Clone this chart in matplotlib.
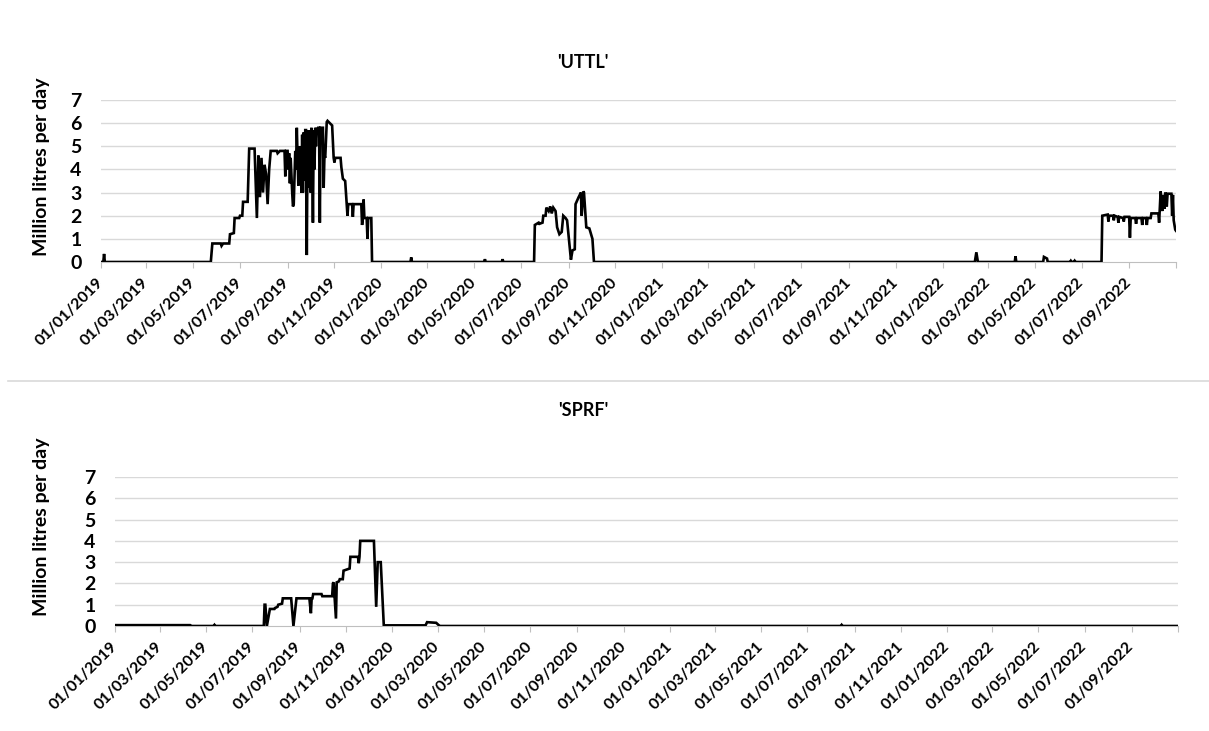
import matplotlib
matplotlib.use("Agg")
import matplotlib.pyplot as plt
import matplotlib.lines as mlines
import pandas as pd

plt.rcParams["font.family"] = ["Lato", "DejaVu Sans"]
plt.rcParams["font.weight"] = "bold"

# ---- data -------------------------------------------------------------
uttl_dates = [
    "2019-01-01", "2019-01-04", "2019-01-05", "2019-01-06",
    "2019-05-24", "2019-05-26", "2019-06-06", "2019-06-07", "2019-06-09",
    "2019-06-17", "2019-06-18", "2019-06-23", "2019-06-24", "2019-06-30",
    "2019-07-01", "2019-07-04", "2019-07-05", "2019-07-11", "2019-07-13",
    "2019-07-20", "2019-07-23", "2019-07-25", "2019-07-27", "2019-07-29",
    "2019-07-31", "2019-08-02", "2019-08-04", "2019-08-06", "2019-08-08",
    "2019-08-10", "2019-08-18", "2019-08-19", "2019-08-22", "2019-08-28",
    "2019-08-29", "2019-08-30", "2019-09-01", "2019-09-02", "2019-09-03",
    "2019-09-04", "2019-09-05", "2019-09-07", "2019-09-08", "2019-09-09",
    "2019-09-11", "2019-09-12", "2019-09-13", "2019-09-15", "2019-09-16",
    "2019-09-18", "2019-09-19", "2019-09-20", "2019-09-21", "2019-09-22",
    "2019-09-23", "2019-09-24", "2019-09-25", "2019-09-26", "2019-09-27",
    "2019-09-28", "2019-09-29", "2019-09-30", "2019-10-01", "2019-10-02",
    "2019-10-03", "2019-10-04", "2019-10-05", "2019-10-06", "2019-10-07",
    "2019-10-08", "2019-10-09", "2019-10-10", "2019-10-11",
    "2019-10-12", "2019-10-13", "2019-10-14", "2019-10-17", "2019-10-18",
    "2019-10-19", "2019-10-20", "2019-10-22", "2019-10-23", "2019-10-29",
    "2019-10-31", "2019-11-01", "2019-11-02", "2019-11-09", "2019-11-10",
    "2019-11-12", "2019-11-15", "2019-11-17", "2019-11-18", "2019-11-19",
    "2019-11-24", "2019-11-25", "2019-11-26", "2019-12-06", "2019-12-07",
    "2019-12-08", "2019-12-09", "2019-12-10", "2019-12-13", "2019-12-14",
    "2019-12-15", "2019-12-19", "2019-12-20",
    "2020-02-08", "2020-02-09", "2020-02-10",
    "2020-05-14", "2020-05-15", "2020-05-16",
    "2020-06-06", "2020-06-07", "2020-06-08",
    "2020-07-18", "2020-07-19", "2020-07-24", "2020-07-25", "2020-07-29",
    "2020-07-30", "2020-08-02", "2020-08-03", "2020-08-06", "2020-08-08",
    "2020-08-10", "2020-08-12", "2020-08-15", "2020-08-17", "2020-08-20",
    "2020-08-23", "2020-08-25", "2020-08-28", "2020-08-30", "2020-09-04",
    "2020-09-06", "2020-09-09", "2020-09-10", "2020-09-14", "2020-09-17",
    "2020-09-18", "2020-09-20", "2020-09-21", "2020-09-24", "2020-09-28",
    "2020-10-02", "2020-10-04",
    "2022-02-12", "2022-02-14", "2022-02-16",
    "2022-04-05", "2022-04-06", "2022-04-07",
    "2022-05-12", "2022-05-13", "2022-05-17", "2022-05-18",
    "2022-06-16", "2022-06-17", "2022-06-18",
    "2022-06-21", "2022-06-22", "2022-06-23",
    "2022-07-27", "2022-07-28", "2022-08-04", "2022-08-05", "2022-08-06",
    "2022-08-11", "2022-08-12", "2022-08-13", "2022-08-17", "2022-08-18",
    "2022-08-19", "2022-08-24", "2022-08-25", "2022-08-26", "2022-09-01",
    "2022-09-02", "2022-09-03", "2022-09-09", "2022-09-10", "2022-09-11",
    "2022-09-17", "2022-09-18", "2022-09-19", "2022-09-23", "2022-09-24",
    "2022-09-25", "2022-09-29", "2022-09-30", "2022-10-09", "2022-10-10",
    "2022-10-12", "2022-10-14", "2022-10-15", "2022-10-17", "2022-10-18",
    "2022-10-20", "2022-10-21", "2022-10-26", "2022-10-27", "2022-10-28",
    "2022-10-29", "2022-10-31", "2022-11-01",
]
uttl_values = [
    0, 0, 0.35, 0,
    0, 0.8, 0.8, 0.7, 0.8,
    0.8, 1.2, 1.25, 1.9, 1.9,
    2.0, 2.0, 2.6, 2.6, 4.9,
    4.9, 1.9, 4.6, 2.8, 4.5,
    3.0, 4.2, 3.8, 2.5, 4.0,
    4.8, 4.8, 4.7, 4.8, 4.8,
    3.7, 4.8, 4.8, 4.0, 4.7,
    3.4, 4.5, 3.0, 2.4, 2.5,
    4.8, 4.0, 5.8, 3.3, 5.0,
    4.8, 3.0, 5.5, 3.0, 5.6,
    3.5, 5.7, 5.7, 0.3, 5.2,
    5.7, 3.2, 5.7, 3.0, 5.8,
    4.8, 1.7, 5.7, 4.0, 5.8,
    5.0, 5.8, 5.6, 5.8,
    5.8, 1.7, 5.8, 5.8, 3.2,
    4.6, 4.5, 6.05, 6.1, 5.9,
    4.5, 4.3, 4.5, 4.5, 4.1,
    3.6, 3.5, 2.5, 2.0, 2.5,
    2.5, 1.95, 2.5, 2.5, 1.6,
    1.9, 2.7, 1.9, 1.9, 1.0,
    1.9, 1.9, 0,
    0, 0.2, 0,
    0, 0.12, 0,
    0, 0.12, 0,
    0, 1.6, 1.7, 1.65, 1.7,
    2.0, 2.0, 2.35, 2.2, 2.4,
    2.1, 2.35, 2.2, 1.5, 1.2,
    1.3, 2.0, 1.9, 1.8, 0.1,
    0.5, 0.55, 2.5, 2.8, 3.0,
    2.0, 3.05, 3.0, 1.5, 1.45,
    1.0, 0,
    0, 0.42, 0,
    0, 0.25, 0,
    0, 0.22, 0.15, 0,
    0, 0.05, 0,
    0, 0.05, 0,
    0, 2.0, 2.05, 1.75, 2.0,
    2.0, 1.8, 2.0, 1.95, 1.7,
    1.95, 1.9, 1.75, 1.95, 1.95,
    1.05, 1.9, 1.9, 1.65, 1.9,
    1.9, 1.6, 1.9, 1.9, 1.6,
    1.9, 1.9, 2.1, 2.1, 1.7,
    3.05, 2.2, 2.9, 2.3, 3.0,
    2.4, 2.95, 2.95, 2.0, 2.9,
    1.8, 1.4, 1.35,
]

sprf_dates = [
    "2019-01-01", "2019-04-10", "2019-04-12",
    "2019-05-11", "2019-05-12", "2019-05-13",
    "2019-07-16", "2019-07-17", "2019-07-18", "2019-07-20",
    "2019-07-24", "2019-07-30", "2019-07-31", "2019-08-03", "2019-08-04",
    "2019-08-09", "2019-08-10", "2019-08-21", "2019-08-24",
    "2019-08-28", "2019-09-14", "2019-09-16", "2019-09-17",
    "2019-09-18", "2019-09-19", "2019-09-30", "2019-10-01",
    "2019-10-14", "2019-10-15", "2019-10-16", "2019-10-19", "2019-10-20",
    "2019-10-23", "2019-10-24", "2019-10-28", "2019-10-29",
    "2019-11-06", "2019-11-07", "2019-11-17", "2019-11-18", "2019-11-19",
    "2019-11-20", "2019-12-08", "2019-12-11", "2019-12-13",
    "2019-12-17", "2019-12-21",
    "2020-02-14", "2020-02-16", "2020-02-28", "2020-03-02", "2020-03-04",
    "2021-08-14", "2021-08-15", "2021-08-16",
    "2022-11-01",
]
sprf_values = [
    0.04, 0.04, 0,
    0, 0.05, 0,
    0, 1.0, 1.0, 0,
    0.8, 0.8, 0.85, 0.9, 1.0,
    1.05, 1.3, 1.3, 0,
    1.3, 1.3, 0.6, 1.3,
    1.3, 1.5, 1.5, 1.4,
    1.4, 2.0, 2.05, 0.35, 2.05,
    2.1, 2.2, 2.2, 2.6,
    2.7, 3.25, 3.25, 2.95, 3.25,
    4.0, 4.0, 0.9, 3.0,
    3.0, 0.03,
    0.03, 0.18, 0.15, 0.05, 0,
    0, 0.05, 0,
    0,
]

tick_dates = pd.date_range("2019-01-01", "2022-11-01", freq="2MS")
tick_labels = [d.strftime("%d/%m/%Y") for d in tick_dates[:-1]] + [""]
y_ticks = list(range(8))

panels = [
    ("'UTTL'", uttl_dates, uttl_values),
    ("'SPRF'", sprf_dates, sprf_values),
]

# ---- figure -----------------------------------------------------------
W, H = 1209, 731
fig = plt.figure(figsize=(W / 100, H / 100), dpi=100)

def px_axes(left, right, top, bottom):
    return fig.add_axes([left / W, 1 - bottom / H, (right - left) / W, (bottom - top) / H])

axes_px = [(101, 1176, 100, 262), (115, 1178, 477, 626)]
title_px = [(583, 62), (583, 411)]
ylabel_px = [(42, 167), (42, 527)]

grid_c = "#d9d9d9"
axis_c = "#bfbfbf"

for (title, dates, values), box, tpos, ypos in zip(panels, axes_px, title_px, ylabel_px):
    ax = px_axes(*box)
    ax.plot(pd.to_datetime(dates), values, color="black", lw=1.9,
            solid_joinstyle="miter", zorder=3)
    ax.set_xlim(pd.Timestamp("2019-01-01"), pd.Timestamp("2022-11-01"))
    ax.set_ylim(0, 7)
    ax.set_yticks(y_ticks)
    ax.set_yticklabels([str(v) for v in y_ticks], fontsize=14, fontweight="bold")
    ax.set_xticks(tick_dates)
    ax.set_xticklabels(tick_labels, rotation=45, ha="right", va="center",
                       rotation_mode="anchor", fontsize=11.5, fontweight="bold")
    ax.tick_params(axis="y", length=0, pad=14)
    ax.tick_params(axis="x", length=4, width=0.8, color=axis_c, pad=9)
    for v in y_ticks[1:]:
        ax.axhline(v, color=grid_c, lw=1.0, zorder=1)
    for s in ("top", "right", "left"):
        ax.spines[s].set_visible(False)
    ax.spines["bottom"].set_color(axis_c)
    ax.spines["bottom"].set_linewidth(0.8)
    fig.text(tpos[0] / W, 1 - tpos[1] / H, title, ha="center", va="center",
             fontsize=13, fontweight="bold")
    fig.text(ypos[0] / W, 1 - ypos[1] / H, "Million litres per day", rotation=90,
             ha="center", va="center", fontsize=14, fontweight="bold")

# divider between the two panels
fig.add_artist(mlines.Line2D([8 / W, 1.0], [1 - 381 / H, 1 - 381 / H],
                             transform=fig.transFigure, color=grid_c, lw=1.2))

fig.savefig("out.png", dpi=100)
